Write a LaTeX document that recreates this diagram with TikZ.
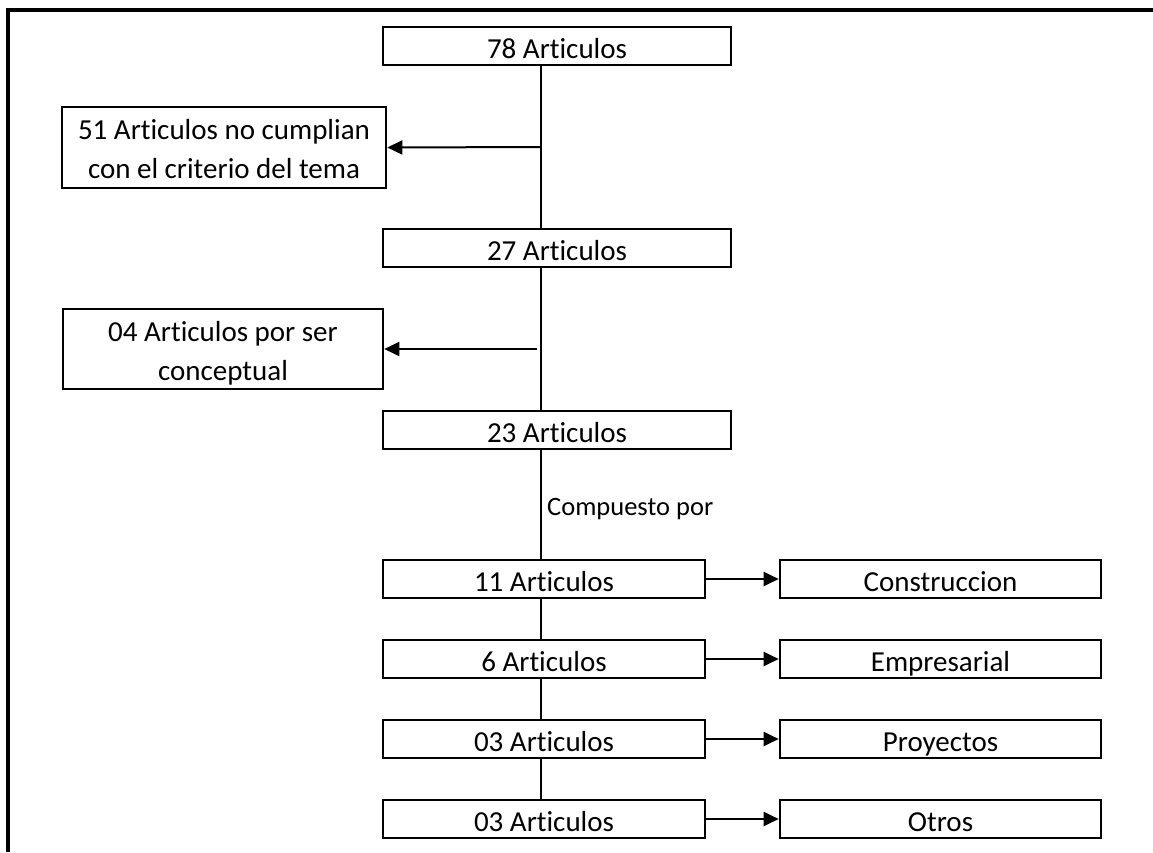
\documentclass[tikz,border=0pt]{standalone}
\usepackage{fontspec}
\setmainfont{Carlito}[RawFeature={-liga}]
\usetikzlibrary{arrows.meta}
\begin{document}
\begin{tikzpicture}[x=1pt,y=-1pt,
  box/.style={draw,line width=2.6pt,rectangle,inner sep=0pt,minimum height=38pt,font=\fontsize{29}{39}\selectfont,align=center},
  one/.style={box,text height=24pt,text depth=0pt},
  two/.style={box,text height=62pt,text depth=0pt},
  wide/.style={one,minimum width=348pt},
  mid/.style={one,minimum width=322pt},
  conn/.style={line width=2pt},
  arr/.style={line width=2pt,-{Triangle[length=15pt,width=14pt]}}]
\useasboundingbox (0,0) rectangle (1153,852);
% frame
\draw[line width=4pt] (8,852) -- (8,10) -- (1153,10);
% main column
\node[wide] (a78) at (557,46) {78 Articulos};
\node[two,minimum width=324pt,minimum height=81pt] (a51) at (224,147.5) {51 Articulos no cumplian\\con el criterio del tema};
\node[wide] (a27) at (557,248) {27 Articulos};
\node[two,minimum width=320pt,minimum height=80pt] (a04) at (223,349) {04 Articulos por ser\\conceptual};
\node[wide] (a23) at (557,430) {23 Articulos};
\node[mid] (a11) at (544,579) {11 Articulos};
\node[mid] (a6) at (544,659) {6 Articulos};
\node[mid] (a03a) at (544,739) {03 Articulos};
\node[mid] (a03b) at (544,819) {03 Articulos};
\node[mid,minimum width=321pt] (c1) at (940.5,579) {Construccion};
\node[mid,minimum width=321pt] (c2) at (940.5,659) {Empresarial};
\node[mid,minimum width=321pt] (c3) at (940.5,739) {Proyectos};
\node[mid,minimum width=321pt] (c4) at (940.5,819) {Otros};
\node[anchor=west,font=\fontsize{26.5}{36}\selectfont,inner sep=0pt] (comp) at (547,509) {Compuesto por};
% trunk
\coordinate (t1) at (541,147);
\coordinate (t2) at (537,349);
\draw[conn] (a78.south -| t1) -- (a27.north -| t1);
\draw[conn] (a27.south -| t1) -- (a23.north -| t1);
\draw[conn] (a23.south -| t1) -- (a11.north -| t1);
\draw[conn] (a11.south -| t1) -- (a6.north -| t1);
\draw[conn] (a6.south -| t1) -- (a03a.north -| t1);
\draw[conn] (a03a.south -| t1) -- (a03b.north -| t1);
% side arrows
\draw[arr] (t1) -- (a51.east);
\draw[arr] (t2) -- (a04.east);
\draw[arr] (a11.east) -- (c1.west);
\draw[arr] (a6.east) -- (c2.west);
\draw[arr] (a03a.east) -- (c3.west);
\draw[arr] (a03b.east) -- (c4.west);
\end{tikzpicture}
\end{document}
